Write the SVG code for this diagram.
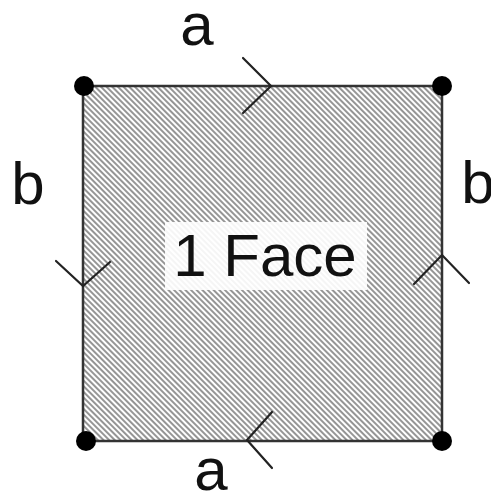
<svg xmlns="http://www.w3.org/2000/svg" width="491" height="495" viewBox="0 0 491 495">
<style>
.lbl{font-family:"Liberation Sans",Arial,sans-serif;font-size:60px;fill:#111}
.edge{stroke:#333;stroke-width:2.5;fill:none}
.chev{stroke:#222;stroke-width:2.2;fill:none;stroke-linecap:round;stroke-linejoin:miter}
.dot{fill:#000}
</style>
<defs>
<pattern id="hatch" patternUnits="userSpaceOnUse" width="4" height="10" patternTransform="rotate(-45)">
<rect width="4" height="10" fill="#fff"/>
<line x1="2" y1="0" x2="2" y2="10" stroke="#8a8a8a" stroke-width="1.8"/>
</pattern>
</defs>
<g id="face">
<rect x="83" y="86" width="359" height="355" fill="url(#hatch)"/>
<rect x="165" y="222" width="202" height="68" fill="#fff" opacity="0.9"/>
<text class="lbl" x="265" y="276" text-anchor="middle">1 Face</text>
</g>
<g id="connectors">
<g id="edge-top"><line class="edge" x1="83" y1="86" x2="442" y2="86"/><polyline class="chev" points="243,58 271,86 243,113"/></g>
<g id="edge-left"><line class="edge" x1="83" y1="86" x2="83" y2="441"/><polyline class="chev" points="56,261 83,286 110,262"/></g>
<g id="edge-right"><line class="edge" x1="442" y1="86" x2="442" y2="441"/><polyline class="chev" points="414,284 442,255 469,283"/></g>
<g id="edge-bottom"><line class="edge" x1="83" y1="441" x2="442" y2="441"/><polyline class="chev" points="272,412 247,440 272,468"/></g>
</g>
<g id="v-tl"><circle class="dot" cx="84" cy="86" r="10"/></g>
<g id="v-tr"><circle class="dot" cx="442" cy="86" r="10"/></g>
<g id="v-bl"><circle class="dot" cx="86" cy="441" r="10"/></g>
<g id="v-br"><circle class="dot" cx="442" cy="441" r="10"/></g>
<g id="label-a-top"><text class="lbl" x="197" y="45" text-anchor="middle">a</text></g>
<g id="label-b-left"><text class="lbl" x="28" y="204" text-anchor="middle">b</text></g>
<g id="label-b-right"><text class="lbl" x="478" y="203" text-anchor="middle">b</text></g>
<g id="label-a-bottom"><text class="lbl" x="211" y="490" text-anchor="middle">a</text></g>
</svg>
